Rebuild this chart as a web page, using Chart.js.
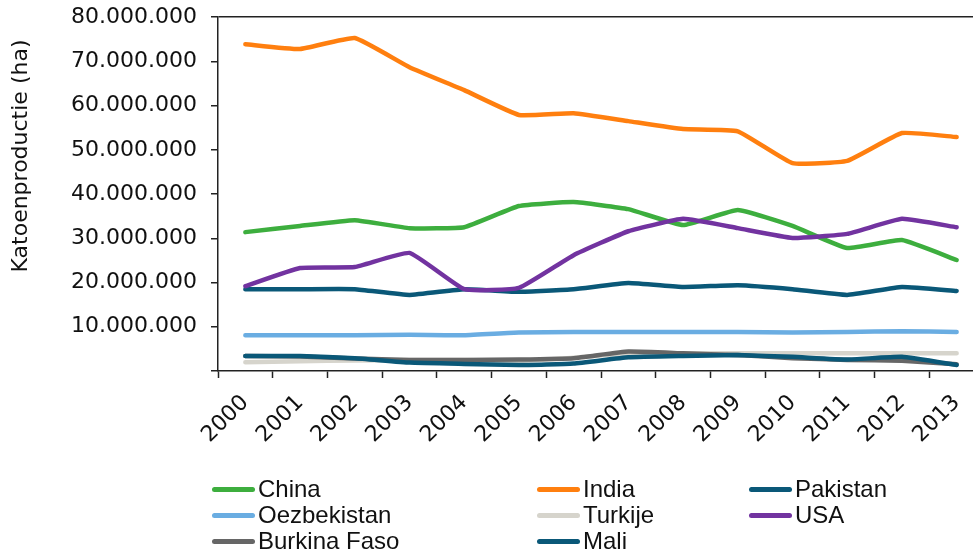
<!DOCTYPE html>
<html>
<head>
<meta charset="utf-8">
<script src="https://cdn.jsdelivr.net/npm/chart.js@4"></script>
<style>
  html, body { margin: 0; padding: 0; background: #fff; overflow: hidden; }
  #wrap { position: relative; width: 990px; height: 553px; overflow: hidden; }
  #doek { position: absolute; left: 0; top: -10px; width: 990px; height: 563px; }
  #legend { position: absolute; left: 0; top: 0; width: 990px; height: 553px; pointer-events: none;
            font-family: "Liberation Sans Narrow", "Arial Narrow", "Liberation Sans", sans-serif; font-size: 24px; color: #111; }
  .item { position: absolute; height: 26px; line-height: 26px; white-space: nowrap; }
  .item span.sw { display: inline-block; width: 43px; height: 5px; border-radius: 2.5px; vertical-align: middle; margin-right: 3px; position: relative; top: -1px; }
</style>
</head>
<body>
<div id="wrap">
  <div id="doek"><canvas id="grafiek"></canvas></div>
  <div id="legend"></div>
</div>
<script>
// jaren
const jaren = ['2000', '2001', '2002', '2003', '2004', '2005', '2006', '2007', '2008', '2009', '2010', '2011', '2012', '2013'];

// katoenproductie per land (ha)
const china = [31400000, 32800000, 34100000, 32300000, 32500000, 37300000, 38200000, 36600000, 33000000, 36400000, 32800000, 27800000, 29600000, 25100000];
const india = [73900000, 72800000, 75300000, 68700000, 63500000, 57900000, 58300000, 56500000, 54700000, 54200000, 47000000, 47500000, 53800000, 52900000];
const pakistan = [18500000, 18500000, 18500000, 17200000, 18500000, 17900000, 18500000, 19900000, 19000000, 19400000, 18500000, 17200000, 19000000, 18100000];
const oezbekistan = [8100000, 8100000, 8100000, 8200000, 8100000, 8700000, 8800000, 8800000, 8800000, 8800000, 8700000, 8800000, 9000000, 8800000];
const turkije = [2000000, 2200000, 2400000, 2500000, 2500000, 2300000, 3000000, 4000000, 4000000, 4000000, 4000000, 4000000, 4000000, 4000000];
const usa = [19200000, 23300000, 23500000, 26700000, 18500000, 18800000, 26200000, 31600000, 34400000, 32300000, 30100000, 31000000, 34400000, 32500000];
const burkinaFaso = [3400000, 3300000, 2800000, 2500000, 2500000, 2600000, 2900000, 4400000, 4000000, 3600000, 2900000, 2500000, 2300000, 1500000];
const mali = [3400000, 3400000, 2900000, 1900000, 1600000, 1350000, 1700000, 3100000, 3400000, 3600000, 3200000, 2600000, 3200000, 1350000];

// y-as
const yMin = 0;
const yMax = 80000000;
const yStap = 10000000;

const lijnen = [
  { label: 'China', data: china, kleur: '#3DAE3E' },
  { label: 'India', data: india, kleur: '#FF7F0F' },
  { label: 'Pakistan', data: pakistan, kleur: '#0A5878' },
  { label: 'Oezbekistan', data: oezbekistan, kleur: '#6AADE2' },
  { label: 'Turkije', data: turkije, kleur: '#D6D4CC' },
  { label: 'USA', data: usa, kleur: '#7233A0' },
  { label: 'Burkina Faso', data: burkinaFaso, kleur: '#666666' },
  { label: 'Mali', data: mali, kleur: '#0A5878' },
];

function puntjes(v) {
  if (v === 0) return '';
  return String(v).replace(/\B(?=(\d{3})+(?!\d))/g, '.');
}

// titel van de y-as, zelf getekend zodat hij op de juiste plek staat
const yTitel = {
  id: 'yTitel',
  afterDraw(chart) {
    const ctx = chart.ctx;
    ctx.save();
    ctx.translate(21, 166);
    ctx.rotate(-Math.PI / 2);
    ctx.font = '22px "DejaVu Sans", Verdana, sans-serif';
    ctx.fillStyle = '#111';
    ctx.textAlign = 'center';
    ctx.textBaseline = 'middle';
    ctx.fillText('Katoenproductie (ha)', 0, 0);
    ctx.restore();
  }
};

const datasets = lijnen.map((l, i) => ({
  label: l.label,
  data: l.data,
  borderColor: l.kleur,
  backgroundColor: l.kleur,
  borderWidth: 4.5,
  borderCapStyle: 'round',
  borderJoinStyle: 'round',
  pointRadius: 0,
  tension: 0.12,
  order: lijnen.length - i, // laatste reeks bovenop
}));

const tickFont = { family: '"DejaVu Sans", Verdana, sans-serif', size: 22 };

const config = {
  type: 'line',
  data: { labels: jaren, datasets: datasets },
  options: {
    responsive: true,
    maintainAspectRatio: false,
    animation: false,
    devicePixelRatio: 1,
    layout: { padding: { top: 0, right: 6, bottom: 0, left: 0 } },
    plugins: { legend: { display: false }, tooltip: { enabled: false } },
    scales: {
      x: {
        type: 'category',
        offset: true,
        grid: { offset: true, drawOnChartArea: false, tickLength: 7, tickColor: '#222', tickWidth: 1.5 },
        border: { color: '#222', width: 1.5 },
        ticks: { font: tickFont, color: '#111', minRotation: 45, maxRotation: 45, padding: 12, autoSkip: false },
        afterFit(scale) { scale.height = 182; },
      },
      y: {
        min: yMin,
        max: yMax,
        grid: {
          drawOnChartArea: true,
          color: (c) => (c.tick && c.tick.value === yMax ? '#222' : 'rgba(0,0,0,0)'),
          lineWidth: 1.5,
          tickLength: 7,
          tickColor: '#222',
          tickWidth: 1.5,
        },
        border: { color: '#222', width: 1.5 },
        ticks: { stepSize: yStap, font: tickFont, color: '#111', padding: 14, callback: (v) => puntjes(v) },
        afterFit(scale) { scale.width = 218; },
      },
    },
  },
  plugins: [yTitel],
};

const grafiek = new Chart(document.getElementById('grafiek'), config);

// legenda in drie kolommen onder de grafiek
const kolommen = [212, 537, 749];
const rijen = [476, 502, 528];
const legenda = document.getElementById('legend');
grafiek.data.datasets.forEach((ds, i) => {
  const el = document.createElement('div');
  el.className = 'item';
  el.style.left = kolommen[i % 3] + 'px';
  el.style.top = rijen[Math.floor(i / 3)] + 'px';
  const sw = document.createElement('span');
  sw.className = 'sw';
  sw.style.background = ds.borderColor;
  el.appendChild(sw);
  el.appendChild(document.createTextNode(ds.label));
  legenda.appendChild(el);
});
</script>
</body>
</html>
